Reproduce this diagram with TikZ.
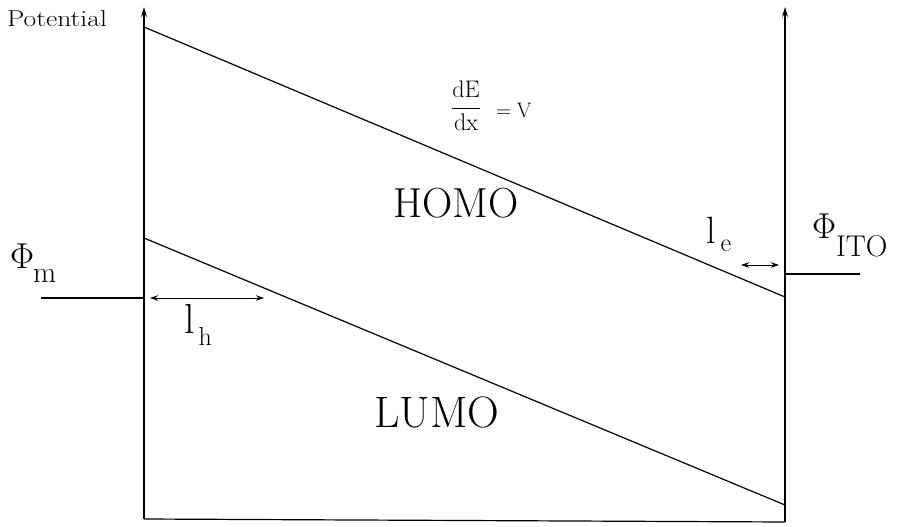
\RequirePackage{fix-cm}
\documentclass[tikz,border=0pt]{standalone}
\usetikzlibrary{arrows.meta}
\newcommand{\fsz}[1]{\fontsize{#1}{#1}\selectfont}
\begin{document}
\begin{tikzpicture}[x=1pt,y=-1pt,
  axis/.style={line width=1.2pt,-{Stealth[length=10pt,width=6pt]}},
  band/.style={line width=1.2pt},
  dim/.style={line width=1pt,{Stealth[length=8pt,width=5.5pt]}-{Stealth[length=8pt,width=5.5pt]}},
  lbl/.style={inner sep=0pt, outer sep=0pt}]
\useasboundingbox (0,0) rectangle (910,527);
% axes
\coordinate (lb) at (144,519);
\coordinate (lt) at (144,7);
\coordinate (rb) at (785,522);
\coordinate (rt) at (785,7);
\draw[axis] (lb) -- (lt);
\draw[axis] (rb) -- (rt);
\draw[band] (lb) -- (rb);
% bands
\coordinate (h1) at (144,27);
\coordinate (h2) at (785,297);
\coordinate (u1) at (144,238);
\coordinate (u2) at (785,505);
\draw[band] (h1) -- (h2);
\draw[band] (u1) -- (u2);
% work functions
\coordinate (m0) at (41,298);
\coordinate (m1) at (144,298);
\draw[band] (m0) -- (m1);
\coordinate (i0) at (785,274);
\coordinate (i1) at (860,274);
\draw[band] (i0) -- (i1);
% dimension arrows
\coordinate (lh0) at (150,298);
\coordinate (lh1) at (264,298);
\draw[dim] (lh0) -- (lh1);
\coordinate (le0) at (741,265);
\coordinate (le1) at (779,265);
\draw[dim] (le0) -- (le1);
% labels
\node[lbl, font=\fsz{23}, anchor=base west, xscale=1.2] (pot) at (7,27) {Potential};
\node[lbl, font=\fsz{42}, anchor=base] (homo) at (456,217) {HOMO};
\node[lbl, font=\fsz{44}, anchor=base] (lumo) at (437,427) {LUMO};
\node[lbl, anchor=base west] (phim) at (10,268) {{\fsz{36}$\Phi$}\hspace{-1pt}{\fsz{30}\raisebox{-14pt}{m}}};
\node[lbl, anchor=base west] (phiito) at (812,238) {{\fsz{36}$\Phi$}{\fsz{30}\raisebox{-18pt}{ITO}}};
\node[lbl, anchor=base west] (lh) at (184,333) {{\fsz{42}l}\hspace{4pt}{\fsz{26}\raisebox{-12pt}{h}}};
\node[lbl, anchor=base west] (le) at (706,243) {{\fsz{38}l}\hspace{5pt}{\fsz{26}\raisebox{-8pt}{e}}};
\node[lbl, font=\fsz{24}] (frac) at (466,106) {$\displaystyle\frac{\mathrm{dE}}{\mathrm{dx}}$};
\node[lbl, font=\fsz{21}, anchor=base west] (eqv) at (496,117) {=\;V};
\end{tikzpicture}
\end{document}
